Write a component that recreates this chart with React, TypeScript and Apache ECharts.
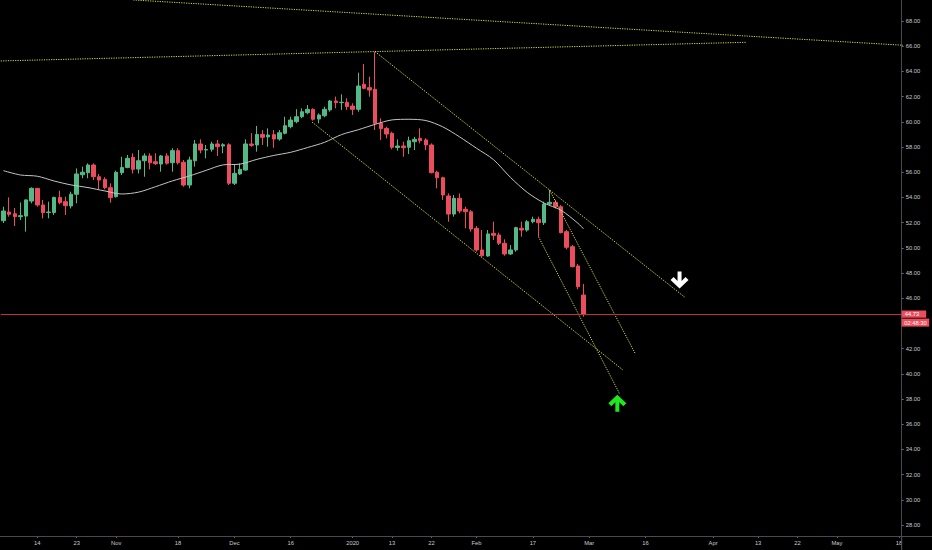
import React, { useEffect, useRef } from "react";
import * as echarts from "echarts";

// ---- calendar (weekdays, two closed days) ----
const START_DATE = "2019-10-04";
const END_DATE = "2020-05-18";
const HOLIDAYS = ["2019-12-25", "2020-01-01"];

// ---- candles (one per trading day from START_DATE) ----
const OPEN = [
  52.15, 52.84, 52.7, 52.47, 52.52, 53.71, 54.72, 53.4, 52.8, 52.8,
  54.0, 53.66, 53.32, 54.25, 55.8, 55.96, 56.57, 55.64, 55.43, 54.77,
  54.06, 55.96, 56.38, 57.18, 56.25, 56.91, 57.29, 56.83, 56.65, 57.29,
  56.75, 57.71, 56.79, 54.98, 56.91, 58.24, 57.76, 57.82, 58.24, 58.08,
  58.18, 55.12, 55.86, 56.17, 58.24, 58.16, 59.0, 58.8, 58.98, 58.63,
  59.09, 59.61, 60.01, 60.4, 60.72, 60.99, 60.22, 60.48, 60.94, 61.65,
  61.52, 61.55, 61.25, 60.99, 62.98, 62.71, 62.58, 59.88, 59.48, 59.09,
  57.96, 58.08, 57.98, 58.42, 58.69, 58.56, 58.16, 56.0, 55.56, 54.11,
  52.68, 53.93, 53.06, 52.86, 51.55, 49.83, 49.35, 51.15, 51.02, 50.36,
  49.51, 49.83, 51.55, 51.41, 52.07, 52.26, 51.99, 53.47, 53.61, 53.26,
  51.28, 50.09, 48.56, 46.25,
];
const CLOSE = [
  52.92, 52.66, 52.47, 52.55, 53.8, 54.72, 53.4, 52.79, 52.84, 54.0,
  53.58, 53.34, 54.25, 55.86, 56.0, 56.57, 55.64, 55.38, 54.77, 53.98,
  55.99, 56.37, 57.1, 56.23, 56.91, 57.29, 56.75, 56.67, 57.29, 56.71,
  57.71, 56.75, 54.98, 56.97, 58.24, 57.76, 57.8, 58.24, 58.02, 58.18,
  55.12, 55.91, 56.23, 58.24, 58.13, 59.0, 58.77, 58.95, 58.63, 59.13,
  59.69, 60.14, 60.4, 60.8, 60.99, 60.2, 60.54, 60.99, 61.65, 61.52,
  61.55, 61.2, 60.99, 62.84, 62.66, 62.52, 59.88, 59.45, 59.03, 57.98,
  58.08, 57.94, 58.5, 58.61, 58.5, 58.16, 55.96, 55.56, 54.19, 52.68,
  53.93, 52.92, 52.86, 51.49, 49.83, 49.37, 51.1, 50.99, 50.36, 49.51,
  49.83, 51.6, 51.41, 52.07, 52.26, 51.99, 53.47, 53.61, 53.26, 51.2,
  50.04, 48.5, 46.91, 44.73,
];
const LOW = [
  51.97, 52.47, 51.73, 52.2, 51.28, 53.53, 53.26, 52.34, 52.34, 52.6,
  53.45, 52.6, 53.13, 53.53, 55.52, 55.52, 55.38, 54.64, 54.64, 53.58,
  53.98, 55.78, 56.31, 55.9, 55.9, 55.64, 56.23, 56.57, 56.04, 56.6,
  56.04, 56.6, 54.85, 54.72, 56.44, 57.5, 57.1, 57.63, 57.29, 57.5,
  54.98, 54.98, 55.78, 56.12, 58.02, 57.63, 58.16, 58.02, 57.94, 58.5,
  59.0, 59.48, 59.88, 60.28, 60.6, 60.09, 59.88, 60.36, 60.8, 61.07,
  60.94, 60.94, 60.54, 60.8, 62.58, 61.99, 59.35, 58.56, 58.69, 57.82,
  57.71, 57.23, 57.44, 57.76, 58.29, 57.76, 55.91, 54.72, 53.8, 52.07,
  52.47, 52.74, 51.55, 51.28, 49.7, 49.29, 49.29, 50.62, 50.22, 49.37,
  49.43, 49.69, 50.88, 51.28, 51.94, 50.88, 51.81, 53.4, 53.13, 51.15,
  49.88, 48.45, 46.71, 44.53,
];
const HIGH = [
  53.26, 54.0, 53.16, 53.6, 53.85, 54.8, 54.75, 53.8, 53.66, 54.06,
  54.53, 54.06, 54.45, 56.3, 56.44, 56.7, 56.7, 55.86, 55.6, 55.12,
  56.12, 57.23, 57.37, 57.5, 57.76, 57.5, 57.5, 57.5, 57.37, 57.5,
  57.9, 57.9, 56.97, 57.23, 58.56, 58.61, 58.16, 58.42, 58.56, 58.3,
  58.3, 56.57, 56.7, 58.61, 59.1, 59.67, 59.35, 59.48, 59.35, 59.35,
  60.4, 60.4, 61.0, 61.07, 61.33, 61.07, 60.67, 61.2, 61.73, 62.0,
  62.18, 61.87, 61.47, 63.9, 64.59, 63.58, 65.56, 60.28, 59.61, 59.21,
  58.61, 58.42, 58.82, 58.8, 59.48, 58.69, 58.29, 56.12, 55.64, 54.32,
  54.19, 54.32, 53.26, 53.0, 51.73, 51.41, 51.41, 52.07, 51.2, 50.67,
  50.22, 51.67, 52.07, 52.2, 52.47, 52.47, 53.66, 54.6, 53.8, 53.4,
  51.41, 50.22, 48.71, 47.13,
];

// ---- moving average (bar index -> price) ----
const MA_INDEX = [0, 3, 6, 9, 12, 15, 18, 21, 24, 27, 30, 33, 36, 39, 42, 45, 48, 51, 54, 57, 60, 63, 66, 69, 72, 75, 78, 81, 84, 87, 90, 93, 96, 99, 102, 103];
const MA_VALUE = [56.12, 55.78, 55.68, 55.3, 54.99, 54.78, 54.51, 54.27, 54.42, 54.85, 55.31, 55.7, 56.15, 56.58, 56.64, 57.02, 57.33, 57.58, 57.96, 58.37, 58.98, 59.37, 59.8, 60.15, 60.2, 60.1, 59.6, 58.8, 57.9, 57.0, 55.6, 54.4, 53.55, 52.98, 51.95, 51.5];

// ---- drawn trend lines: [bar index, price, bar index, price] ----
const TRENDS = [
  [23.05, 69.67, 164.9, 65.94],
  [-0.5, 64.83, 131.86, 66.31],
  [66, 65.56, 121, 46.07],
  [54.78, 59.98, 110.0, 40.3],
  [97, 54.55, 112.15, 41.63],
  [95, 50.88, 109.36, 38.45],
];

// ---- arrow marks: [bar index, price] ----
const DOWN_ARROW = [120.05, 47.44];
const UP_ARROW = [109.0, 37.66];

// ---- axes ----
const TICK_DATES = ["2019-10-14", "2019-10-23", "2019-11-01", "2019-11-18", "2019-12-02", "2019-12-16", "2020-01-02", "2020-01-13", "2020-01-22", "2020-02-03", "2020-02-17", "2020-03-02", "2020-03-16", "2020-04-01", "2020-04-13", "2020-04-22", "2020-05-01", "2020-05-18"];
const TICK_LABELS = ["14", "23", "Nov", "18", "Dec", "16", "2020", "13", "22", "Feb", "17", "Mar", "16", "Apr", "13", "22", "May", "18"];
const PRICE_MIN = 26;
const PRICE_MAX = 70;
const PRICE_STEP = 2;
const LAST_PRICE = 44.73;
const COUNTDOWN = "02:48:30";

const UP = "#53b987";
const DOWN = "#eb4d5c";
const TREND_COLOR = "#d2dd3e";
const AXIS_COLOR = "#4a4a4a";
const TEXT_COLOR = "#c8cad0";
const FONT = '"Liberation Sans", Arial, sans-serif';

const UP_ARROW_PATH = "path://M9,0 L18,8.5 L15,11.5 L11,7.5 L11,17 L7,17 L7,7.5 L3,11.5 L0,8.5 Z";
const DOWN_ARROW_PATH = "path://M9,17 L18,8.5 L15,5.5 L11,9.5 L11,0 L7,0 L7,9.5 L3,5.5 L0,8.5 Z";

function buildDates(): string[] {
  const out: string[] = [];
  const d = new Date(START_DATE + "T00:00:00Z");
  const end = new Date(END_DATE + "T00:00:00Z").getTime();
  while (d.getTime() <= end) {
    const wd = d.getUTCDay();
    const s = d.toISOString().slice(0, 10);
    if (wd !== 0 && wd !== 6 && HOLIDAYS.indexOf(s) < 0) out.push(s);
    d.setUTCDate(d.getUTCDate() + 1);
  }
  return out;
}

export default function App() {
  const ref = useRef<HTMLDivElement>(null);
  useEffect(() => {
    document.body.style.margin = "0";
    document.body.style.background = "#000";
    const el = ref.current!;
    const chart = echarts.init(el, null, { renderer: "svg" });
    const dates = buildDates();
    const n = dates.length;
    const candles = OPEN.map((o, i) => [o, CLOSE[i], LOW[i], HIGH[i]]);
    const ma = MA_INDEX.map((x, i) => [x, MA_VALUE[i]]);
    const gridLeft = 0.7;
    const gridWidth = 901;
    const pxPerUnit = 12.6;
    const yAt68 = 21;
    const gridTop = yAt68 - (PRICE_MAX - 68) * pxPerUnit;
    const gridHeight = (PRICE_MAX - PRICE_MIN) * pxPerUnit;
    const axisY = 536;
    const isTick = (_i: number, v: string) => TICK_DATES.indexOf(v) >= 0;

    const trendSeries = TRENDS.map((t) => ({
      type: "line",
      xAxisIndex: 1,
      yAxisIndex: 0,
      data: [
        [t[0], t[1]],
        [t[2], t[3]],
      ],
      showSymbol: false,
      symbol: "none",
      clip: false,
      silent: true,
      lineStyle: { color: TREND_COLOR, width: 1, type: [1.2, 1.2] },
      z: 4,
    }));

    const option: any = {
      animation: false,
      backgroundColor: "#000",
      grid: [
        { left: gridLeft, width: gridWidth, top: gridTop, height: gridHeight, outerBoundsMode: "none", containLabel: false },
        { left: gridLeft, width: gridWidth, top: 0, height: axisY, outerBoundsMode: "none", containLabel: false },
      ],
      xAxis: [
        { type: "category", gridIndex: 0, data: dates, show: false, boundaryGap: true },
        { type: "value", gridIndex: 0, min: -0.5, max: n - 0.5, show: false },
        {
          type: "category",
          gridIndex: 1,
          data: dates,
          boundaryGap: true,
          axisLine: { show: false },
          axisTick: { show: true, interval: isTick, alignWithLabel: true, length: 2, lineStyle: { color: "#6a6a6a" } },
          axisLabel: {
            interval: isTick,
            formatter: (v: string) => TICK_LABELS[TICK_DATES.indexOf(v)] || "",
            color: TEXT_COLOR,
            fontSize: 5.8,
            fontFamily: FONT,
            margin: 4,
          },
          splitLine: { show: false },
        },
      ],
      yAxis: [
        {
          type: "value",
          gridIndex: 0,
          position: "right",
          min: PRICE_MIN,
          max: PRICE_MAX,
          interval: PRICE_STEP,
          axisLine: { show: true, onZero: false, lineStyle: { color: AXIS_COLOR, width: 1 } },
          axisTick: { show: true, length: 2, lineStyle: { color: "#6a6a6a" } },
          axisLabel: {
            formatter: (v: number) =>
              v <= PRICE_MIN || v >= PRICE_MAX || Math.abs(v - LAST_PRICE) < 1 ? "" : v.toFixed(2),
            color: TEXT_COLOR,
            fontSize: 5.8,
            fontFamily: FONT,
            margin: 4,
          },
          splitLine: { show: false },
        },
        { type: "value", gridIndex: 1, min: 0, max: 1, show: false },
      ],
      series: [
        {
          type: "candlestick",
          xAxisIndex: 0,
          yAxisIndex: 0,
          data: candles,
          barWidth: 4,
          itemStyle: { color: UP, color0: DOWN, borderColor: UP, borderColor0: DOWN, borderWidth: 1 },
          markLine: {
            symbol: "none",
            silent: true,
            label: { show: false },
            lineStyle: { color: "#c0303f", width: 1, type: "solid" },
            data: [{ yAxis: LAST_PRICE }],
          },
          z: 2,
        },
        {
          type: "line",
          xAxisIndex: 1,
          yAxisIndex: 0,
          data: ma,
          smooth: 0.3,
          showSymbol: false,
          symbol: "none",
          silent: true,
          lineStyle: { color: "#c4c4c4", width: 1 },
          z: 3,
        },
        ...trendSeries,
        {
          type: "scatter",
          xAxisIndex: 1,
          yAxisIndex: 0,
          data: [DOWN_ARROW],
          symbol: DOWN_ARROW_PATH,
          symbolSize: [18, 17],
          itemStyle: { color: "#ffffff", opacity: 1 },
          silent: true,
          clip: false,
          z: 5,
        },
        {
          type: "scatter",
          xAxisIndex: 1,
          yAxisIndex: 0,
          data: [UP_ARROW],
          symbol: UP_ARROW_PATH,
          symbolSize: [18, 17],
          itemStyle: { color: "#1fe81f", opacity: 1 },
          silent: true,
          clip: false,
          z: 5,
        },
      ],
    };
    chart.setOption(option);

    const py = chart.convertToPixel({ yAxisIndex: 0 }, LAST_PRICE) as number;
    const ax = gridLeft + gridWidth;
    chart.setOption({
      graphic: [
        { type: "rect", z: 100, shape: { x: ax + 0.5, y: axisY + 1, width: 40, height: 20 }, style: { fill: "#000" } },
        { type: "line", z: 101, shape: { x1: 0, y1: axisY + 0.5, x2: 932, y2: axisY + 0.5 }, style: { stroke: AXIS_COLOR, lineWidth: 1 } },
        { type: "line", z: 101, shape: { x1: ax, y1: axisY, x2: ax, y2: 550 }, style: { stroke: AXIS_COLOR, lineWidth: 1 } },
        { type: "rect", z: 102, shape: { x: ax, y: py - 3.7, width: 24.5, height: 7.2 }, style: { fill: DOWN } },
        { type: "text", z: 103, x: ax + 3, y: py - 0.1, style: { text: LAST_PRICE.toFixed(2), fill: "#ffffff", fontSize: 5.8, fontFamily: FONT, align: "left", verticalAlign: "middle" } },
        { type: "rect", z: 102, shape: { x: ax, y: py + 4.4, width: 27.5, height: 8 }, style: { fill: DOWN } },
        { type: "text", z: 103, x: ax + 2.5, y: py + 8.4, style: { text: COUNTDOWN, fill: "#ffffff", fontSize: 5.8, fontFamily: FONT, align: "left", verticalAlign: "middle" } },
      ],
    });

    return () => chart.dispose();
  }, []);
  return <div ref={ref} style={{ position: "absolute", left: 0, top: 0, width: 932, height: 550, background: "#000" }} />;
}
